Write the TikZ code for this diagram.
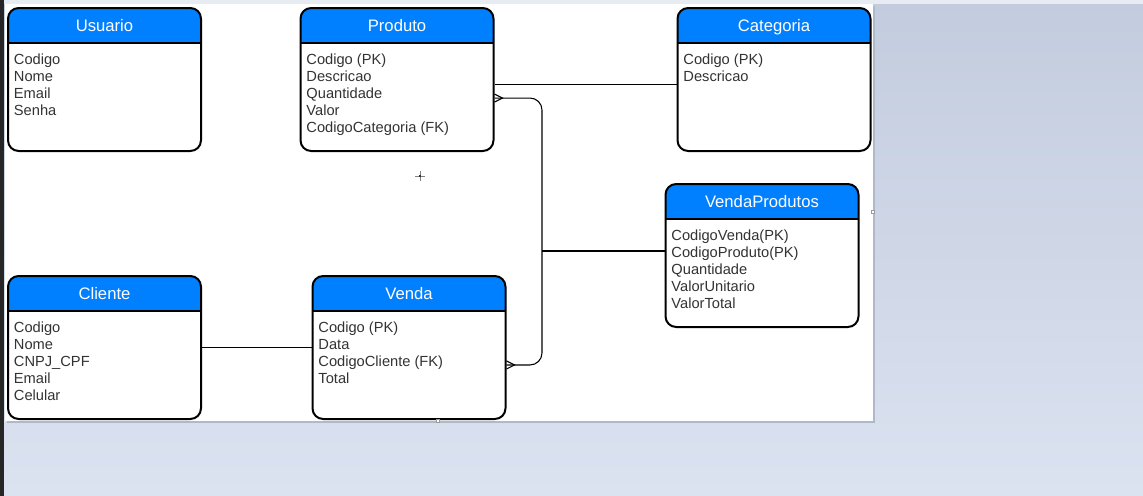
\documentclass[tikz,border=0pt]{standalone}
\usepackage{fontspec}
\setmainfont{Liberation Sans}
\usetikzlibrary{positioning}

\definecolor{azul}{HTML}{007FFF}
\definecolor{texto}{HTML}{333333}
\definecolor{fundoA}{HTML}{C3CCDE}
\definecolor{fundoB}{HTML}{DBE2F0}
\definecolor{sombra}{HTML}{AEB9CC}

\tikzstyle{tabela} = [draw=black, line width=1.5pt, rounded corners=8pt, fill=white,
  minimum width=144.75pt, minimum height=107.25pt, inner sep=0pt,
  path picture={
    \fill[azul, sharp corners] (path picture bounding box.north west)
      rectangle ([yshift=-26.25pt]path picture bounding box.north east);
    \draw[line width=1.2pt, sharp corners] ([yshift=-26.25pt]path picture bounding box.north west)
      -- ([yshift=-26.25pt]path picture bounding box.north east);
  }]
\tikzstyle{titulo} = [text=white, font=\fontsize{12.5pt}{15pt}\selectfont, inner sep=0pt, anchor=base]
\tikzstyle{campos} = [text=texto, font=\fontsize{11pt}{12.8pt}\selectfont, align=left, inner sep=0pt, anchor=north west]

\begin{document}
\begin{tikzpicture}[x=0.75pt, y=-0.75pt]
  \tikzset{liga/.style={draw=black, line width=0.8pt},
           pe/.style={draw=black, line width=0.8pt, sharp corners}}

  % fundo da captura
  \useasboundingbox (0,0) rectangle (1143,496);
  \shade[top color=fundoA, bottom color=fundoB] (0,0) rectangle (1143,496);
  \fill[fundoA!40!white] (0,0) rectangle (1143,3.5);
  \fill[black!85] (0,0) rectangle (3.5,496);
  \fill[sombra] (7,6) rectangle (875,423);
  \fill[white] (5,4) rectangle (873,421);

  % tabelas
  \node (usuario) [tabela] at (104.5,79.5) {};
  \node (produto) [tabela] at (397,79.5) {};
  \node (categoria) [tabela] at (774,79.5) {};
  \node (vprod) [tabela] at (762,255.5) {};
  \node (cliente) [tabela] at (104.5,347.5) {};
  \node (venda) [tabela] at (409,347.5) {};

  \node (tUsuario) [titulo] at ([yshift=-18.6pt]usuario.north) {Usuario};
  \node (tProduto) [titulo] at ([yshift=-18.6pt]produto.north) {Produto};
  \node (tCategoria) [titulo] at ([yshift=-18.6pt]categoria.north) {Categoria};
  \node (tVprod) [titulo] at ([yshift=-18.6pt]vprod.north) {VendaProdutos};
  \node (tCliente) [titulo] at ([yshift=-18.6pt]cliente.north) {Cliente};
  \node (tVenda) [titulo] at ([yshift=-18.6pt]venda.north) {Venda};

  \node (cUsuario) [campos] at ([xshift=5pt, yshift=-34.8pt]usuario.north west)
    {Codigo\\Nome\\Email\\Senha};
  \node (cProduto) [campos] at ([xshift=5pt, yshift=-34.8pt]produto.north west)
    {Codigo (PK)\\Descricao\\Quantidade\\Valor\\CodigoCategoria (FK)};
  \node (cCategoria) [campos] at ([xshift=5pt, yshift=-34.8pt]categoria.north west)
    {Codigo (PK)\\Descricao};
  \node (cVprod) [campos] at ([xshift=5pt, yshift=-34.8pt]vprod.north west)
    {CodigoVenda(PK)\\CodigoProduto(PK)\\Quantidade\\ValorUnitario\\ValorTotal};
  \node (cCliente) [campos] at ([xshift=5pt, yshift=-34.8pt]cliente.north west)
    {Codigo\\Nome\\CNPJ\_CPF\\Email\\Celular};
  \node (cVenda) [campos] at ([xshift=5pt, yshift=-34.8pt]venda.north west)
    {Codigo (PK)\\Data\\CodigoCliente (FK)\\Total};

  % ligacoes
  \coordinate (pc) at ([yshift=-3.4pt]produto.east);
  \coordinate (pv) at ([yshift=-13.9pt]produto.east);
  \coordinate (vp) at ([yshift=-13.1pt]venda.east);
  \coordinate (vj) at ([yshift=3.4pt]vprod.west);
  \coordinate (juncao) at (542,250);

  \draw[liga] (pc) -- (pc -| categoria.west);
  \draw[liga] (cliente.east) -- (venda.west);
  \draw[liga, rounded corners=9pt] (pv) -- (pv -| juncao) -- (vp -| juncao) -- (vp);
  \draw[liga] (vj) -- (vj -| juncao);

  % pes de galinha
  \draw[pe] ([yshift=3pt]pv) -- ([xshift=6pt]pv) -- ([yshift=-3pt]pv);
  \draw[pe] ([yshift=3pt]vp) -- ([xshift=6pt]vp) -- ([yshift=-3pt]vp);

  % cursor e alcas
  \draw[black!50, line width=0.4pt] (415,176) -- (425,176) (420,171) -- (420,181);
  \fill[black!80] (419,175) rectangle (421,177);
  \draw[black!40, line width=0.4pt, fill=white] (871.5,210.5) rectangle (874.5,213.5);
  \draw[black!40, line width=0.4pt, fill=white] (436.5,419.5) rectangle (439.5,422.5);
\end{tikzpicture}
\end{document}
